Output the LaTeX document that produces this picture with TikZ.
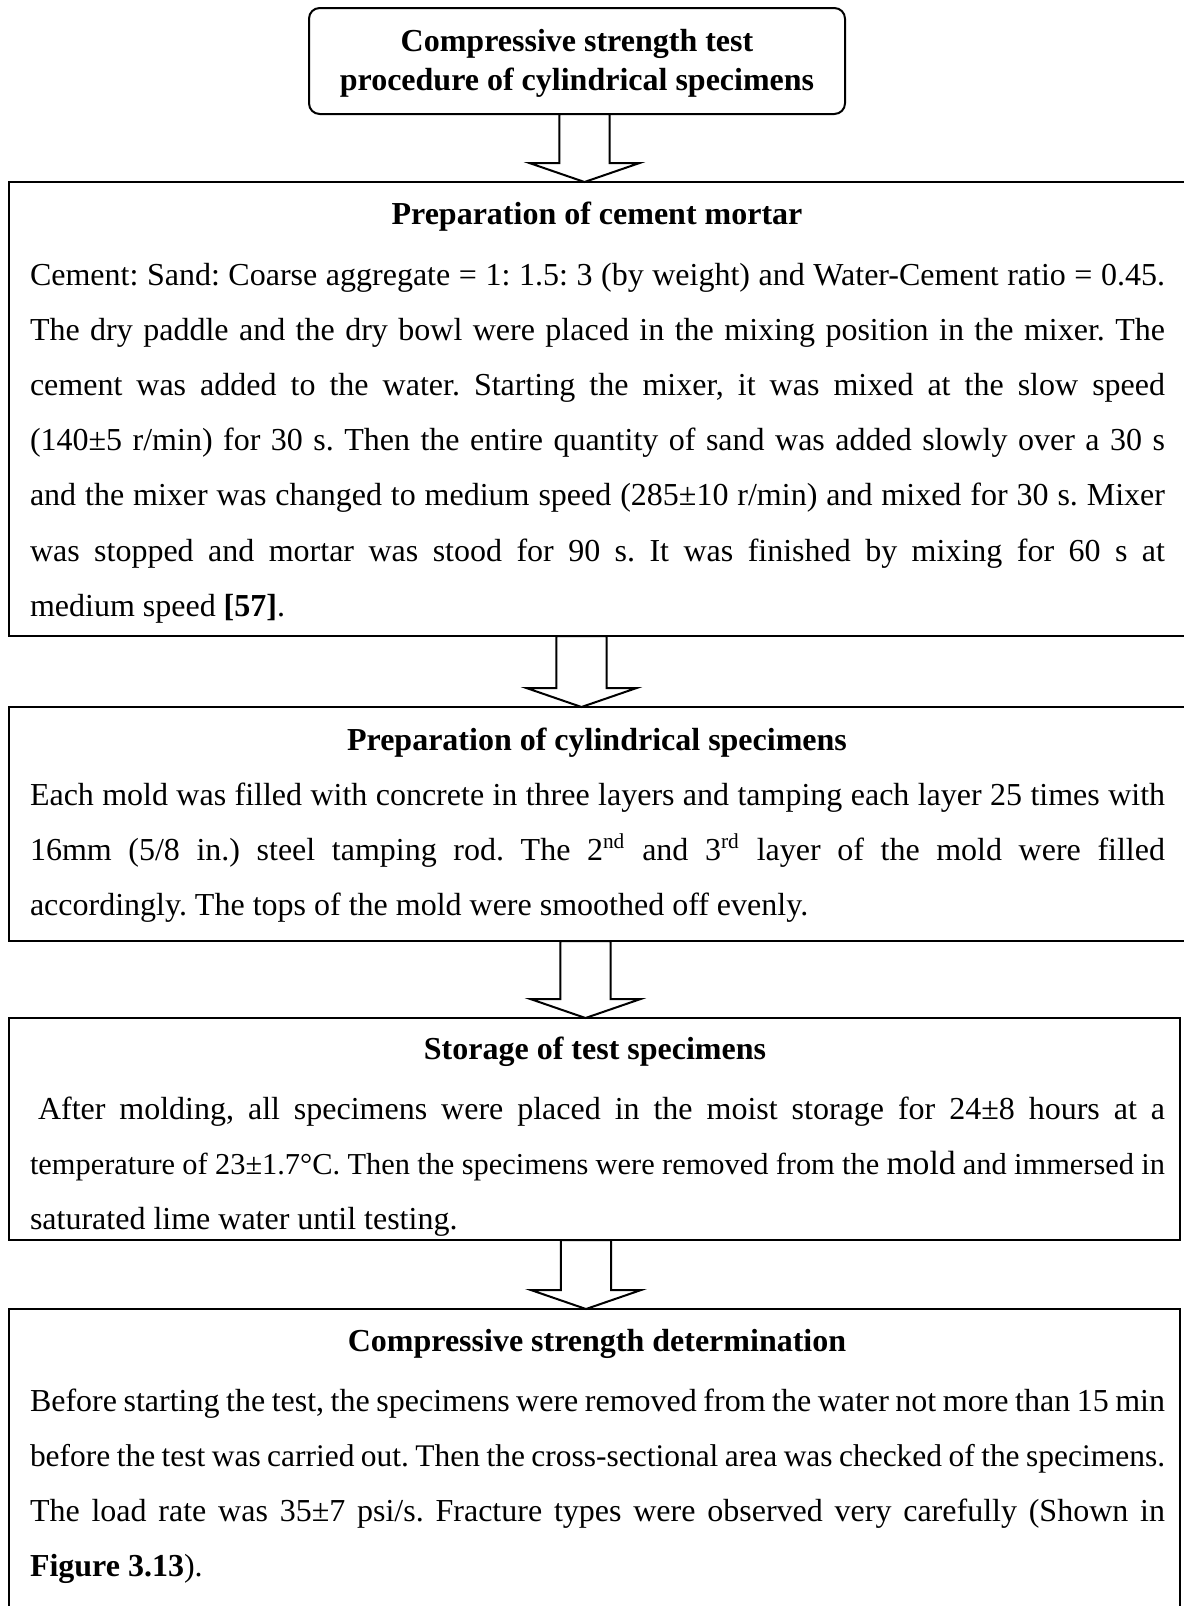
\documentclass[tikz,border=0pt]{standalone}
\usepackage{fontspec}
\setmainfont{Liberation Serif}
\usetikzlibrary{calc}
\frenchspacing
\newlength\tw \setlength\tw{425.625pt}
\newcommand\jl[1]{\makebox[\tw][s]{#1}}
\newcommand\blockarrow[2]{%
  \draw[blockarrowstyle] let \p1=(#1), \p2=(#2) in
    (\x2-9.4pt,\y1) -- (\x2+9.4pt,\y1) -- (\x2+9.4pt,\y2+7.1pt) -- (\x2+20.6pt,\y2+7.1pt)
    -- (\x2,\y2) -- (\x2-20.6pt,\y2+7.1pt) -- (\x2-9.4pt,\y2+7.1pt) -- cycle;}
\tikzset{
  boxframe/.style={draw=black, line width=0.75pt, inner sep=0pt, outer sep=0pt, fill=white, anchor=north west},
  txt/.style={inner sep=0pt, outer sep=0pt, anchor=base west, font=\fontsize{12}{14}\selectfont\frenchspacing},
  ttl/.style={inner sep=0pt, outer sep=0pt, anchor=base, font=\fontsize{12}{14}\selectfont\bfseries},
  blockarrowstyle/.style={draw=black, line width=0.75pt, fill=white, line join=miter},
}
\begin{document}
\begin{tikzpicture}[x=0.375pt,y=-0.375pt]
\useasboundingbox (0,0) rectangle (1183,1606);
% boxes
\node[boxframe, rounded corners=4pt, minimum width=201pt, minimum height=39.75pt] (b1) at (309,8) {};
\node[boxframe, minimum width=444.75pt, minimum height=170.25pt] (b2) at (9,182) {};
\node[boxframe, minimum width=444.75pt, minimum height=87.75pt] (b3) at (9,707) {};
\node[boxframe, minimum width=439.125pt, minimum height=83.25pt] (b4) at (9,1018) {};
\node[boxframe, minimum width=439.125pt, minimum height=116.6pt] (b5) at (9,1309) {};
% arrow axes
\coordinate (ax1) at (584.5,0);
\coordinate (ax2) at (581.5,0);
\coordinate (ax3) at (585.5,0);
\coordinate (ax4) at (586,0);
\blockarrow{b1.south -| ax1}{b2.north -| ax1}
\blockarrow{b2.south -| ax2}{b3.north -| ax2}
\blockarrow{b3.south -| ax3}{b4.north -| ax3}
\blockarrow{b4.south -| ax4}{b5.north -| ax4}
% box 1
\node[ttl] (t1a) at (577,52) {Compressive strength test};
\node[ttl] (t1b) at (577,90) {procedure of cylindrical specimens};
% box 2
\node[ttl] (t2) at (597,224) {Preparation of cement mortar};
\node[txt] (b2l1) at (30,285) {\jl{Cement: Sand: Coarse aggregate = 1: 1.5: 3 (by weight) and Water-Cement ratio = 0.45.}};
\node[txt] (b2l2) at (30,340.2) {\jl{The dry paddle and the dry bowl were placed in the mixing position in the mixer. The}};
\node[txt] (b2l3) at (30,395.4) {\jl{cement was added to the water. Starting the mixer, it was mixed at the slow speed}};
\node[txt] (b2l4) at (30,450.6) {\jl{(140±5 r/min) for 30 s. Then the entire quantity of sand was added slowly over a 30 s}};
\node[txt] (b2l5) at (30,505.8) {\jl{and the mixer was changed to medium speed (285±10 r/min) and mixed for 30 s. Mixer}};
\node[txt] (b2l6) at (30,561) {\jl{was stopped and mortar was stood for 90 s. It was finished by mixing for 60 s at}};
\node[txt] (b2l7) at (30,616.2) {medium speed \textbf{[57]}.};
% box 3
\node[ttl] (t3) at (597,750) {Preparation of cylindrical specimens};
\node[txt] (b3l1) at (30,805) {\jl{Each mold was filled with concrete in three layers and tamping each layer 25 times with}};
\node[txt] (b3l2) at (30,860.2) {\jl{16mm (5/8 in.) steel tamping rod. The 2\textsuperscript{nd} and 3\textsuperscript{rd} layer of the mold were filled}};
\node[txt] (b3l3) at (30,915.4) {accordingly. The tops of the mold were smoothed off evenly.};
% box 4
\node[ttl] (t4) at (595,1059) {Storage of test specimens};
\node[txt] (b4l1) at (38,1119) {\makebox[422.6pt][s]{After molding, all specimens were placed in the moist storage for 24±8 hours at a}};
\node[txt] (b4l2) at (30,1174.2) {\fontsize{11.4}{14}\selectfont\jl{temperature of 23±1.7°C. Then the specimens were removed from the {\fontsize{12.6}{14}\selectfont mold} and immersed in}};
\begin{scope}
  \clip (9,1018) rectangle (1180,1236);
  \node[txt] (b4l3) at (30,1229.4) {saturated lime water until testing.};
\end{scope}
% box 5
\node[ttl] (t5) at (597,1351) {Compressive strength determination};
\node[txt] (b5l1) at (30,1411) {\jl{Before starting the test, the specimens were removed from the water not more than 15 min}};
\node[txt] (b5l2) at (30,1466.2) {\fontsize{11.8}{14}\selectfont\jl{before the test was carried out. Then the cross-sectional area was checked of the specimens.}};
\node[txt] (b5l3) at (30,1521.4) {\jl{The load rate was 35±7 psi/s. Fracture types were observed very carefully (Shown in}};
\node[txt] (b5l4) at (30,1576.6) {\textbf{Figure 3.13}).};
\end{tikzpicture}
\end{document}
